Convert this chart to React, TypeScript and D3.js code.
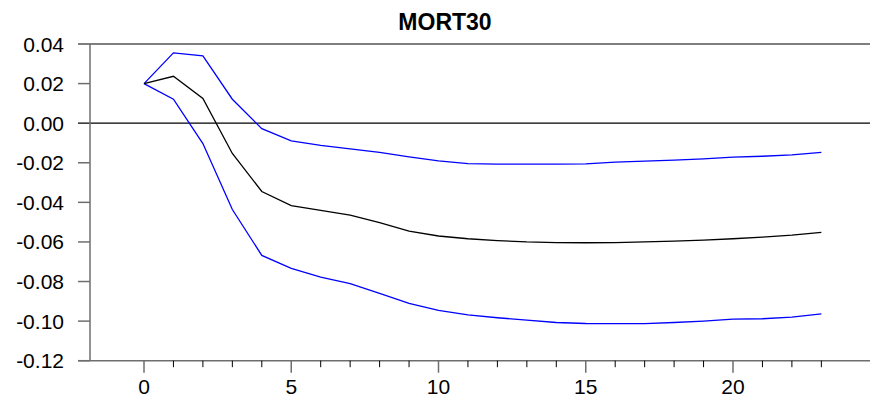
import React from "react";
import * as d3 from "d3";

const periods = d3.range(0, 24);
const response = [0.020, 0.0237, 0.0125, -0.0153, -0.0345, -0.0416, -0.0440, -0.0465, -0.0503, -0.0545, -0.0570, -0.0584, -0.0593, -0.0600, -0.0603, -0.0604, -0.0603, -0.0600, -0.0596, -0.0591, -0.0584, -0.0576, -0.0566, -0.0552];
const upper = [0.020, 0.0355, 0.0340, 0.0121, -0.0028, -0.0089, -0.0112, -0.0130, -0.0148, -0.0170, -0.0190, -0.0204, -0.0207, -0.0207, -0.0207, -0.0206, -0.0197, -0.0192, -0.0187, -0.0180, -0.0172, -0.0167, -0.0160, -0.0148];
const lower = [0.020, 0.0121, -0.0103, -0.0436, -0.0668, -0.0734, -0.0778, -0.0811, -0.0860, -0.0910, -0.0946, -0.0968, -0.0983, -0.0995, -0.1007, -0.1012, -0.1013, -0.1013, -0.1007, -0.1000, -0.0990, -0.0988, -0.0980, -0.0963];
const yTicks = [0.04, 0.02, 0.0, -0.02, -0.04, -0.06, -0.08, -0.1, -0.12];
const xMajor = [0, 5, 10, 15, 20];
const title = "MORT30";

export default function App() {
  const W = 870, H = 401;
  const x = d3.scaleLinear().domain([0, 20]).range([144, 733]);
  const y = d3.scaleLinear().domain([0.04, -0.12]).range([44, 360.7]);
  const axisLeft = 90;
  const axisRight = 870;
  const line = d3.line<number>().x((_, i) => x(periods[i])).y((d) => y(d));
  const font = "'Liberation Sans', Arial, sans-serif";
  const grey = "#6e6e6e";
  return (
    <svg width={W} height={H} style={{ position: "absolute", left: 0, top: 0, background: "#fff" }}>
      <rect x={0} y={0} width={W} height={H} fill="#fff" />
      <text x={445} y={30} textAnchor="middle" fontFamily={font} fontWeight="bold" fontSize={23}>{title}</text>
      {/* reference lines */}
      <line x1={78} x2={axisRight} y1={y(0.04)} y2={y(0.04)} stroke="#000" strokeWidth={1.2} />
      <line x1={78} x2={axisRight} y1={y(0)} y2={y(0)} stroke="#000" strokeWidth={1.2} />
      {/* left axis */}
      <line x1={axisLeft} x2={axisLeft} y1={y(0.04)} y2={y(-0.12)} stroke={grey} strokeWidth={1.5} />
      {yTicks.map((t) => (
        <g key={t}>
          {t !== 0.04 && t !== 0 && (
            <line x1={78} x2={axisLeft} y1={y(t)} y2={y(t)} stroke={grey} strokeWidth={1.5} />
          )}
          <text x={64} y={y(t) + 7.5} textAnchor="end" fontFamily={font} fontSize={21}>{t.toFixed(2)}</text>
        </g>
      ))}
      {/* bottom axis */}
      <line x1={78} x2={axisRight} y1={y(-0.12)} y2={y(-0.12)} stroke={grey} strokeWidth={1.5} />
      {periods.map((p) => (
        <line key={p} x1={x(p)} x2={x(p)} y1={y(-0.12)} y2={y(-0.12) + (p % 5 === 0 ? 12 : 6.5)} stroke={p % 5 === 0 ? grey : "#000"} strokeWidth={p % 5 === 0 ? 1.5 : 1} />
      ))}
      {xMajor.map((t) => (
        <text key={t} x={x(t)} y={394} textAnchor="middle" fontFamily={font} fontSize={21}>{t}</text>
      ))}
      <path d={line(upper) || ""} fill="none" stroke="#0000ff" strokeWidth={1.3} />
      <path d={line(lower) || ""} fill="none" stroke="#0000ff" strokeWidth={1.3} />
      <path d={line(response) || ""} fill="none" stroke="#000" strokeWidth={1.3} />
    </svg>
  );
}
